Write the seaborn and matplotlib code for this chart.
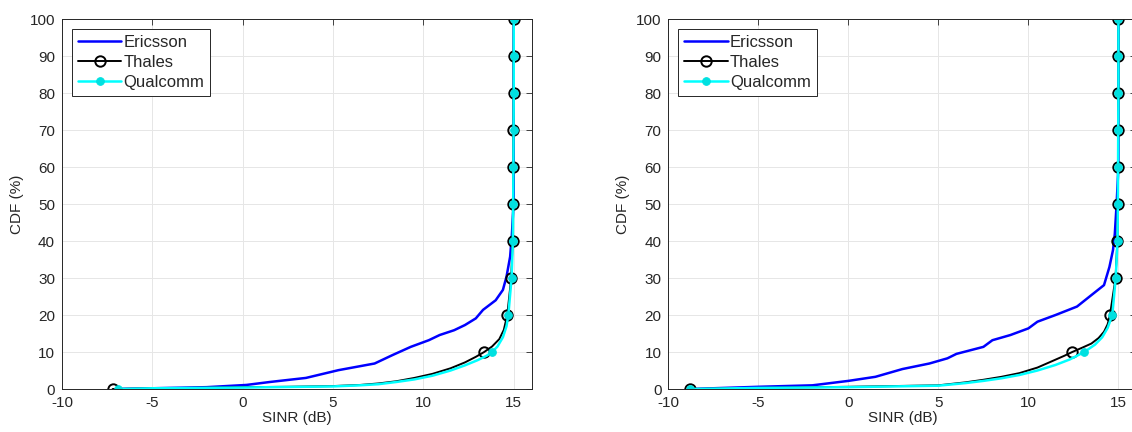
import numpy as np
import seaborn as sns
import matplotlib
matplotlib.use("Agg")
import matplotlib.pyplot as plt

# ---- left panel data (SINR dB, CDF %) ----
eric_x_l = [-6.9, -5, -2, 0.2, 1.5, 3.5, 5.3, 7.3, 8.3, 9.3, 10.3, 10.9, 11.7, 12.3, 12.9, 13.3,
            14.0, 14.4, 14.6, 14.8, 14.9, 15.0, 15.0]
eric_y_l = [0, 0.2, 0.5, 1.1, 1.9, 3, 5.1, 6.9, 9.2, 11.4, 13.2, 14.6, 15.9, 17.3, 19.1, 21.4,
            24, 26.8, 30.4, 35.8, 42, 51, 100]
thal_x_l = [-7.2, -5, -2, 0, 2.5, 5, 6.5, 7.5, 8.5, 9.5, 10.5, 11.5, 12.3, 12.9, 13.36, 13.8,
            14.2, 14.45, 14.64, 14.86, 14.94, 14.96, 14.97, 14.98, 14.99, 14.99, 15.0]
thal_y_l = [0, 0.2, 0.35, 0.5, 0.6, 0.8, 1.1, 1.5, 2.1, 3.0, 4.1, 5.6, 7.2, 8.7, 10, 11.5,
            13.5, 16, 20, 30, 40, 50, 60, 70, 80, 90, 100]
qual_x_l = [-6.9, -5, 0, 5, 6.5, 7.5, 8.5, 9.5, 10.5, 11.5, 12.3, 13, 13.5, 13.8, 14.1, 14.4,
            14.6, 14.7, 14.88, 14.95, 14.97, 14.98, 14.99, 15.0, 15.0, 15.0]
qual_y_l = [0, 0.2, 0.4, 0.7, 1.0, 1.3, 1.9, 2.6, 3.6, 5.0, 6.4, 7.8, 9.0, 10, 11.5, 14,
            17, 20, 30, 40, 50, 60, 70, 80, 90, 100]

# ---- right panel data ----
eric_x_r = [-8.8, -5, -2, 0, 1.5, 3, 4.5, 5.5, 6, 7.5, 8, 9, 10, 10.5, 11.5, 12.7, 13.5,
            14.2, 14.5, 14.7, 14.8, 14.9, 15.0, 15.0]
eric_y_r = [0, 0.6, 1.0, 2.2, 3.3, 5.4, 6.9, 8.3, 9.5, 11.4, 13.2, 14.6, 16.4, 18.2, 20,
            22.3, 25.4, 28.1, 33, 37.6, 42, 50, 60, 100]
thal_x_r = [-8.8, -5, 0, 5, 6.5, 7.5, 8.5, 9.5, 10.5, 11.3, 12, 12.43, 13, 13.5, 13.9, 14.2,
            14.4, 14.53, 14.84, 14.94, 14.97, 14.98, 14.99, 15.0, 15.0, 15.0]
thal_y_r = [0, 0.3, 0.6, 1.0, 1.8, 2.5, 3.3, 4.3, 5.8, 7.5, 9, 10, 11.2, 12.3, 13.8, 15.5,
            17.5, 20, 30, 40, 50, 60, 70, 80, 90, 100]
qual_x_r = [-8.8, -5, 0, 5, 6.5, 7.5, 8.5, 9.5, 10.5, 11.5, 12.3, 13.1, 13.7, 14.1, 14.4,
            14.66, 14.85, 14.95, 14.97, 14.98, 14.99, 15.0, 15.0, 15.0]
qual_y_r = [0, 0.3, 0.5, 0.9, 1.6, 2.2, 2.9, 3.8, 5.0, 6.5, 8.0, 10, 12, 14, 16.5,
            20, 30, 40, 50, 60, 70, 80, 90, 100]

x_ticks = [-10, -5, 0, 5, 10, 15]
y_ticks = [0, 10, 20, 30, 40, 50, 60, 70, 80, 90, 100]

sns.set_style("whitegrid")
plt.rcParams['font.family'] = ['Liberation Sans', 'DejaVu Sans']
plt.rcParams['axes.unicode_minus'] = False

fig = plt.figure(figsize=(11.32, 4.32), dpi=100)
ax1 = fig.add_axes([0.0548, 0.0995, 0.415, 0.856])
ax2 = fig.add_axes([0.5905, 0.0995, 0.4134, 0.856])


def deciles(y):
    return [i for i, v in enumerate(y) if v % 10 == 0]


def panel(ax, ex, ey, tx, ty, qx, qy):
    sns.lineplot(x=ex, y=ey, sort=False, estimator=None, color="#0000ff", lw=1.8,
                 label="Ericsson", ax=ax)
    sns.lineplot(x=tx, y=ty, sort=False, estimator=None, color="black", lw=1.4,
                 marker="o", markersize=7.5, mfc="none", mec="black", mew=1.4,
                 markevery=deciles(ty), label="Thales", ax=ax)
    sns.lineplot(x=qx, y=qy, sort=False, estimator=None, color="#00ffff", lw=1.8,
                 marker="o", markersize=5.5, mfc="#00e0e0", mec="#00e0e0",
                 markevery=deciles(qy), label="Qualcomm", ax=ax)
    ax.set_xlim(-10, 16)
    ax.set_ylim(0, 100)
    ax.set_xticks(x_ticks)
    ax.set_yticks(y_ticks)
    ax.grid(True, color="#e6e6e6", lw=0.7)
    ax.tick_params(direction="in", top=True, right=True, length=4, width=0.6,
                   labelsize=11, colors="#262626", pad=5)
    for s in ax.spines.values():
        s.set_color("#262626")
        s.set_linewidth(0.7)
    ax.set_xlabel("SINR (dB)", fontsize=11, color="#262626", labelpad=1)
    ax.set_ylabel("CDF (%)", fontsize=11, color="#262626", labelpad=4)
    leg = ax.legend(loc="upper left", fontsize=12, frameon=True, fancybox=False,
                    edgecolor="#262626", framealpha=1, borderaxespad=0.6,
                    handlelength=2.6, handletextpad=0.15, borderpad=0.35,
                    labelspacing=0.3)
    leg.get_frame().set_linewidth(0.7)


panel(ax1, eric_x_l, eric_y_l, thal_x_l, thal_y_l, qual_x_l, qual_y_l)
panel(ax2, eric_x_r, eric_y_r, thal_x_r, thal_y_r, qual_x_r, qual_y_r)

fig.savefig("out.png", dpi=100)
